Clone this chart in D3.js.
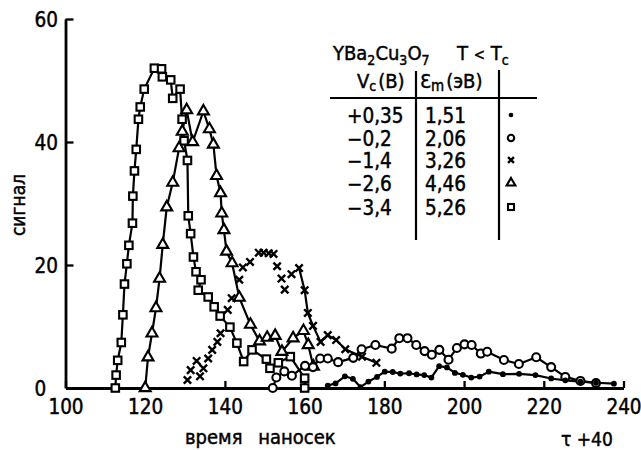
<!DOCTYPE html>
<html><head><meta charset="utf-8">
<script src="https://cdn.jsdelivr.net/npm/d3@7"></script>
<style>
body{margin:0;background:#fff}
svg text{font-family:"DejaVu Sans Condensed","DejaVu Sans",sans-serif;fill:#000;stroke:#000;stroke-width:0.45px}
</style></head><body>
<svg id="c" width="641" height="450"></svg>
<script>
// ---- data ----
const xTicks = [100,120,140,160,180,200,220,240];
const yTicks = [0,20,40,60];

// −3,4 V (squares)
const sqT = [112.5,112.7,113.1,114,114.4,114.8,115.4,115.9,116.8,116.9,117.3,117.75,118.3,118.75,119.75,122.3,124.1,124.3,126.4,126.9,128.75,129.25,129.75,130.6,130.8,131.4,132.1,132.75,134,133.3,135.8,137.3,138.8,141.25,143,144.7,146.8,150.4,151.3,153.4,156.4,160,160];
const sqV = [0,2.1,4.5,7.4,11.9,16.9,20.2,23.2,26.8,31.2,35.3,38.8,43.7,45.7,48.6,52,51.9,50.6,50.1,47.1,48.6,43.7,40.2,37,28,25.1,21.3,18.9,17.6,15.9,14.8,13.2,11.7,9.9,7.3,4.3,6.2,4.7,3.2,4.1,5.1,1.6,0];

// −2,6 V (triangles)
const trT = [120,120.7,121.7,122.7,123.6,124.4,125.4,126.9,128.5,129.3,130.4,131.9,134.6,136.1,137.1,137.9,138.9,139.2,139.75,140.4,141.8,143.6,146.4,148.7,150.6,152.6,154.3,157.1,159.7,160.9,162.2];
const trV = [0,5,8.9,13,17.8,23.3,29.4,33.4,39,41.7,45.2,40,45,42.1,39.6,34.5,31.7,28.4,25.7,22.2,20.3,14.7,10.3,7.6,8.2,8.5,5.9,8.1,9.3,7,3.5];

// −1,4 V (crosses)
const crT = [130.6,131.4,132.9,133.75,134.6,135.8,136.8,138.1,138.9,140.7,141.7,143.6,144.5,146.3,148.5,149.7,151,152.2,153.1,154.2,155,156.7,158.6,160,160.8,162.1,164,165.8,167.9,170.2,174.4,178];
const crV = [1.3,2.9,4.4,1.9,3.2,4.8,6.2,7.5,8.9,12.7,14.6,17.6,19.6,20.5,22,22,21.9,21.8,19.8,17.8,16,18.5,19.5,15.9,12.2,10.1,7.5,8.6,7.8,6.3,5.1,4.1];
const crLineFrom = 158.6;   // crosses are joined by a line only from here on

// −0,2 V (open circles)
const ciT = [152,152.9,154.9,156.8,160.1,162.1,163.9,165.8,168.4,172.2,174.3,177.75,181.85,183.75,185.8,188,190.1,191.9,193.8,196.1,198.2,200.1,201.9,204.2,205.8,210,213.75,218.1,221.85,225.4,229.2,233.1];
const ciV = [0,1.7,2.7,2,3.6,3.4,4.8,4.8,4.2,4.9,6.3,7,6.4,8.1,8.1,7,6,5.4,6.2,4.6,6.5,7.1,7,5.6,5.9,4.55,3.9,5,3.4,1.8,1.15,0.8];

// +0,35 V (dots)
const dtT = [165.8,167.75,170.1,172.1,174,176,178.15,180.1,182.1,184,186.2,188.1,190,191.8,193.75,195.7,197.7,199.7,201.8,203.9,206.2,209.75,213.8,217.9,221.85,225.4,229.2,233.1,237.6];
const dtV = [0.4,0.75,1.9,1.5,0.15,1.05,1.8,2.65,2.6,2.35,2.4,2.2,2.1,1.7,3.55,3.35,2.45,2.15,1.7,1.85,2.65,2.25,2.3,2.1,1.55,1.25,1.05,0.85,0.7];

// legend table
const legendV = ["+0,35","\u22120,2","\u22121,4","\u22122,6","\u22123,4"];
const legendE = ["1,51","2,06","3,26","4,46","5,26"];
const legendMark = ["dot","circle","cross","triangle","square"];

// ---- drawing ----
const svg = d3.select("#c");
const x = d3.scaleLinear().domain([100,240]).range([65.5,623.5]);
const y = d3.scaleLinear().domain([0,60]).range([388,19]);

function drawMarker(g, type, cx, cy, k){
  k = k || 1;
  if(type==="dot"){
    g.append("circle").attr("cx",cx).attr("cy",cy).attr("r",2.9*k).attr("fill","#000");
  } else if(type==="circle"){
    g.append("circle").attr("cx",cx).attr("cy",cy).attr("r",4*k)
      .attr("fill","#fff").attr("stroke","#000").attr("stroke-width",2.1);
  } else if(type==="cross"){
    const h=3.7*k;
    g.append("path").attr("d",`M${cx-h},${cy-h}L${cx+h},${cy+h}M${cx-h},${cy+h}L${cx+h},${cy-h}`)
      .attr("stroke","#000").attr("stroke-width",2.4).attr("fill","none");
  } else if(type==="triangle"){
    g.append("path").attr("d",d3.symbol(d3.symbolTriangle, 52*k*k)())
      .attr("transform",`translate(${cx},${cy})`)
      .attr("fill","#fff").attr("stroke","#000").attr("stroke-width",2.1).attr("stroke-linejoin","miter");
  } else if(type==="square"){
    const s=7.5*k;
    g.append("rect").attr("x",cx-s/2).attr("y",cy-s/2).attr("width",s).attr("height",s)
      .attr("fill","#fff").attr("stroke","#000").attr("stroke-width",2.1);
  }
}

// axes
const xAxis = d3.axisBottom(x).tickValues(xTicks).tickSize(-7).tickSizeOuter(0).tickFormat(d3.format("d"));
const yAxis = d3.axisLeft(y).tickValues(yTicks).tickSize(-8).tickSizeOuter(0).tickFormat(d3.format("d"));

const gx = svg.append("g").attr("transform","translate(0,388)").call(xAxis);
const gy = svg.append("g").attr("transform","translate(65.5,0)").call(yAxis);
[gx,gy].forEach(g=>{
  g.select(".domain").attr("stroke","#000").attr("stroke-width",2.8);
  g.selectAll(".tick line").attr("stroke","#000").attr("stroke-width",2.3);
  g.selectAll(".tick text").attr("font-family",null).attr("font-size",20.5);
});
gx.selectAll(".tick text").attr("y",25.5).attr("dy",0);
gy.selectAll(".tick text").attr("text-anchor","start").attr("x",-31).attr("dy","0.36em");
gy.select(".tick:first-of-type line").remove();

// series
const series = [
  {t:sqT, v:sqV, type:"square", lineFrom:-Infinity},
  {t:trT, v:trV, type:"triangle", lineFrom:-Infinity},
  {t:crT, v:crV, type:"cross", lineFrom:crLineFrom},
  {t:ciT, v:ciV, type:"circle", lineFrom:-Infinity},
  {t:dtT, v:dtV, type:"dot", lineFrom:-Infinity}
];
const line = d3.line().x(d=>x(d[0])).y(d=>y(d[1]));
series.forEach(s=>{
  const pts = s.t.map((t,i)=>[t,s.v[i]]);
  const lp = pts.filter(p=>p[0]>=s.lineFrom);
  svg.append("path").attr("d",line(lp)).attr("fill","none").attr("stroke","#000")
    .attr("stroke-width",2.2).attr("stroke-linejoin","round");
});
series.forEach(s=>{
  const g = svg.append("g");
  s.t.forEach((t,i)=>drawMarker(g, s.type, x(t), y(s.v[i]), 1));
});

// axis titles
svg.append("text").attr("x",185).attr("y",444).attr("font-size",20)
  .attr("word-spacing","10px").text("время наносек");
svg.append("text").attr("x",561).attr("y",446).attr("font-size",19)
  .text("\u03C4 +40");
svg.append("text").attr("transform","translate(25,205) rotate(-90)")
  .attr("text-anchor","middle").attr("font-size",19).text("сигнал");

// legend table
const lg = svg.append("g");
const title = lg.append("text").attr("x",333).attr("y",60).attr("font-size",20);
title.append("tspan").text("YBa");
title.append("tspan").attr("font-size",14).attr("dy",5).text("2");
title.append("tspan").attr("dy",-5).text("Cu");
title.append("tspan").attr("font-size",14).attr("dy",5).text("3");
title.append("tspan").attr("dy",-5).text("O");
title.append("tspan").attr("font-size",14).attr("dy",5).text("7");
const t2 = lg.append("text").attr("x",457).attr("y",60).attr("font-size",20);
t2.append("tspan").text("T ");
t2.append("tspan").attr("font-size",15).text("<");
t2.append("tspan").text(" T");
t2.append("tspan").attr("font-size",14).attr("dy",5).text("c");

const h1 = lg.append("text").attr("x",357).attr("y",88).attr("font-size",20);
h1.append("tspan").text("V");
h1.append("tspan").attr("font-size",14).attr("dy",3).text("c");
h1.append("tspan").attr("dy",-3).attr("dx",2).text("(B)");
const h2 = lg.append("text").attr("x",420).attr("y",88).attr("font-size",20);
h2.append("tspan").text("\u0190");
h2.append("tspan").attr("font-size",15).attr("dy",3).text("m");
h2.append("tspan").attr("dy",-3).attr("dx",2).text("(\u044DB)");

lg.append("line").attr("x1",330).attr("x2",537).attr("y1",98).attr("y2",98)
  .attr("stroke","#000").attr("stroke-width",2.2);
lg.append("line").attr("x1",416).attr("x2",416).attr("y1",71).attr("y2",240)
  .attr("stroke","#000").attr("stroke-width",2.2);
lg.append("line").attr("x1",499).attr("x2",499).attr("y1",70).attr("y2",240)
  .attr("stroke","#000").attr("stroke-width",2.2);

const rowY = [123,146,168,191,215];
legendV.forEach((v,i)=>{
  lg.append("text").attr("x",347).attr("y",rowY[i]).attr("font-size",20.5).text(v);
  lg.append("text").attr("x",425).attr("y",rowY[i]).attr("font-size",20.5).text(legendE[i]);
  drawMarker(lg, legendMark[i], 511, rowY[i]-8, 0.8);
});
</script>
</body></html>
